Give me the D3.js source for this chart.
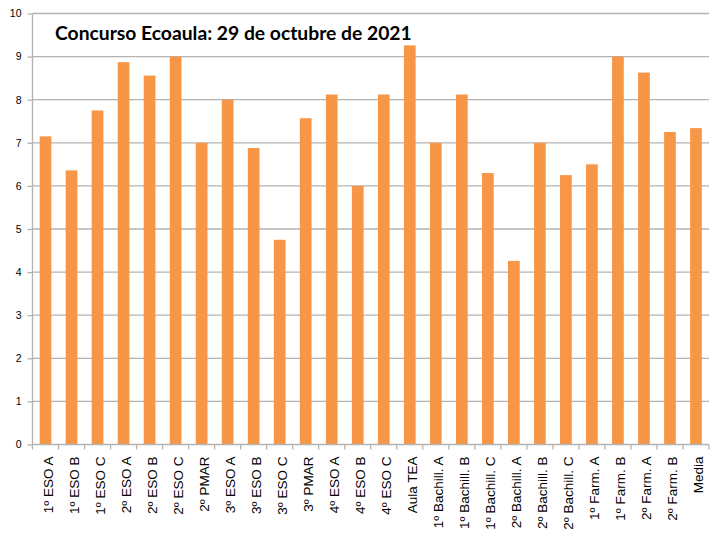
<!DOCTYPE html>
<html lang="es">
<head>
<meta charset="utf-8">
<title>Concurso Ecoaula</title>
<script src="https://cdn.jsdelivr.net/npm/d3@7"></script>
<style>
  body { margin: 0; background: #fff; }
  text { font-family: "Liberation Sans", Arial, sans-serif; fill: #000; }
  .title { font-family: Lato, "Open Sans", sans-serif; font-weight: bold; }
</style>
</head>
<body>
<script>
// categories and values
var grupos = ["1º ESO A", "1º ESO B", "1º ESO C", "2º ESO A", "2º ESO B", "2º ESO C",
  "2º PMAR", "3º ESO A", "3º ESO B", "3º ESO C", "3º PMAR", "4º ESO A", "4º ESO B",
  "4º ESO C", "Aula TEA", "1º Bachill. A", "1º Bachill. B", "1º Bachill. C",
  "2º Bachill. A", "2º Bachill. B", "2º Bachill. C", "1º Farm. A", "1º Farm. B",
  "2º Farm. A", "2º Farm. B", "Media"];
var notas = [7.15, 6.36, 7.75, 8.87, 8.56, 9.0, 7.0, 8.0, 6.88, 4.75, 7.57, 8.12, 6.0,
  8.12, 9.26, 7.0, 8.12, 6.3, 4.26, 7.0, 6.25, 6.5, 9.0, 8.63, 7.25, 7.34];
var yTicks = [0, 1, 2, 3, 4, 5, 6, 7, 8, 9, 10];
var titulo = "Concurso Ecoaula: 29 de octubre de 2021";

var w = 720, h = 540;
var mLeft = 32.5, mRight = 709, mTop = 13.5, mBottom = 444.5;
var gris = "#b3b3b3";

var svg = d3.select("body").append("svg")
  .attr("width", w)
  .attr("height", h);

var x = d3.scaleBand().domain(grupos).range([mLeft, mRight]).padding(0);
var y = d3.scaleLinear().domain([0, 10]).range([mBottom, mTop]);

// gridlines
svg.append("g").selectAll("line")
  .data(yTicks.filter(function(d) { return d > 0; }))
  .enter().append("line")
  .attr("x1", mLeft).attr("x2", mRight)
  .attr("y1", function(d) { return y(d); })
  .attr("y2", function(d) { return y(d); })
  .attr("stroke", gris).attr("stroke-width", 1.3);

// bars
var barW = x.bandwidth() * 0.45;
svg.append("g").selectAll("rect")
  .data(notas)
  .enter().append("rect")
  .attr("x", function(d, i) { return x(grupos[i]) + (x.bandwidth() - barW) / 2; })
  .attr("y", function(d) { return y(d); })
  .attr("width", barW)
  .attr("height", function(d) { return y(0) - y(d); })
  .attr("fill", "#f79646");

// y axis
var yAxis = d3.axisLeft(y).tickValues(yTicks).tickSize(5).tickPadding(6);
var gy = svg.append("g")
  .attr("transform", "translate(" + mLeft + ",0)")
  .call(yAxis);
gy.selectAll("line, path").attr("stroke", gris).attr("stroke-width", 1.3);
gy.select(".domain").attr("d", "M0," + mTop + "V" + mBottom);
gy.selectAll("text").style("font-size", "10.5px").attr("fill", "#000");

// x axis: ticks at band boundaries
var bordes = grupos.map(function(g) { return x(g); }).concat([mRight]);
svg.append("line")
  .attr("x1", mLeft).attr("x2", mRight)
  .attr("y1", mBottom).attr("y2", mBottom)
  .attr("stroke", gris).attr("stroke-width", 1.3);
svg.append("g").selectAll("line")
  .data(bordes)
  .enter().append("line")
  .attr("x1", function(d) { return d; })
  .attr("x2", function(d) { return d; })
  .attr("y1", mBottom).attr("y2", mBottom + 5)
  .attr("stroke", gris).attr("stroke-width", 1.3);

svg.append("g").selectAll("text")
  .data(grupos)
  .enter().append("text")
  .attr("transform", function(d) {
    return "translate(" + (x(d) + x.bandwidth() / 2) + "," + (mBottom + 12) + ") rotate(-90)";
  })
  .attr("dy", "0.52em")
  .attr("text-anchor", "end")
  .style("font-size", "13.5px")
  .text(function(d) { return d; });

// title, sized to span the same width as the original
var t = svg.append("text")
  .attr("class", "title")
  .attr("x", 55)
  .attr("y", 40)
  .style("font-size", "18px")
  .text(titulo);
var len = t.node().getComputedTextLength();
t.style("font-size", (18 * 357 / len) + "px");
</script>
</body>
</html>
